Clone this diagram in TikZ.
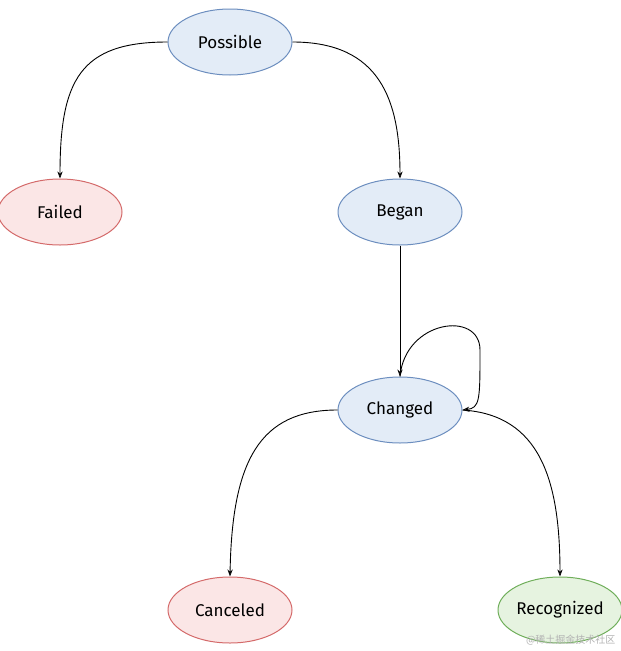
\documentclass[tikz,border=0pt]{standalone}
\usepackage{fontspec}
\setmainfont{Fira Sans}
\newfontfamily\cjk{Noto Sans CJK SC}
\usetikzlibrary{shapes.geometric,arrows.meta}
\definecolor{bstroke}{HTML}{6C8EBF}\definecolor{bfill}{HTML}{E3ECF7}
\definecolor{rstroke}{HTML}{D46A6A}\definecolor{rfill}{HTML}{FBE6E6}
\definecolor{gstroke}{HTML}{6FAE5A}\definecolor{gfill}{HTML}{E6F3E0}
\tikzset{
 st/.style={ellipse,minimum width=124pt,minimum height=66pt,line width=1pt,font=\fontsize{17}{20}\selectfont,inner sep=0pt},
 blue/.style={st,draw=bstroke,fill=bfill},
 red/.style={st,draw=rstroke,fill=rfill},
 green/.style={st,draw=gstroke,fill=gfill},
 ar/.style={line width=0.9pt,-{Stealth[length=7pt,open]}}
}
\begin{document}
\begin{tikzpicture}[x=1pt,y=-1pt]
\useasboundingbox (0,0) rectangle (621,651);
\node[blue] (p) at (230,42) {Possible};
\node[red] (f) at (60,212) {Failed};
\node[blue] (b) at (400,212) {Began};
\node[blue] (c) at (400,410) {Changed};
\node[red] (x) at (230,610) {Canceled};
\node[green] (r) at (560,610) {Recognized};
\draw[ar] (p.west) .. controls (80,42) and (60,80) .. (f.north);
\draw[ar] (p.east) .. controls (380,42) and (400,100) .. (b.north);
\draw[ar] (b.south) -- (c.north);
\draw[ar] (c.north) .. controls (405,320) and (480,310) .. (480,350) .. controls (480,400) and (480,408) .. (c.east);
\draw[ar] (c.west) .. controls (260,410) and (232,460) .. (x.north);
\draw[ar] (c.east) .. controls (540,415) and (560,480) .. (r.north);
\node[text=gray!60,font=\cjk\fontsize{10}{12}\selectfont,anchor=south east] (w) at (619,649) {@稀土掘金技术社区};
\end{tikzpicture}
\end{document}
